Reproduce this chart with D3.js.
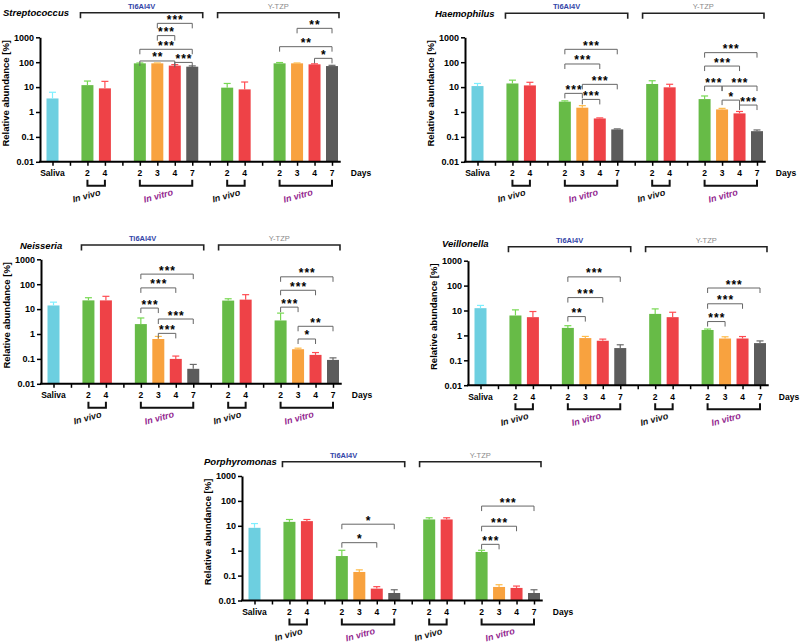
<!DOCTYPE html>
<html>
<head>
<meta charset="utf-8">
<script src="https://cdn.jsdelivr.net/npm/d3@7"></script>
<style>
  body { margin: 0; background: #fff; }
  text { font-family: "Liberation Sans", Arial, sans-serif; }
</style>
</head>
<body>
<div id="container"></div>
<script>
var width = 800;
var height = 643;

// categories (13 bars), with the slot each one sits on (gaps between groups)
var categories = ["Saliva", "Ti in vivo 2", "Ti in vivo 4", "Ti in vitro 2", "Ti in vitro 3", "Ti in vitro 4", "Ti in vitro 7",
  "Y in vivo 2", "Y in vivo 4", "Y in vitro 2", "Y in vitro 3", "Y in vitro 4", "Y in vitro 7"];
var dayLabels = ["Saliva", "2", "4", "2", "3", "4", "7", "2", "4", "2", "3", "4", "7"];
var slotOf = [0, 2, 3, 5, 6, 7, 8, 10, 11, 13, 14, 15, 16];
var yTicks = [0.01, 0.1, 1, 10, 100, 1000];

// relative abundance [%], bar value and top of error bar
var strep    = [3.5, 12, 8.9, 90, 90, 73, 66, 9.5, 8.1, 90, 90, 82, 70];
var strepErr = [6.2, 17.5, 17, 93, 93, 80, 71, 14, 16, 97, 93, 86, 75];
var haemo    = [11, 14, 11.7, 2.6, 1.49, 0.55, 0.2, 13.3, 9.8, 3.3, 1.27, 0.88, 0.17];
var haemoErr = [14, 19, 15.6, 2.8, 1.8, 0.58, 0.21, 18, 13, 4.4, 1.4, 1.05, 0.19];
var neiss    = [14, 22.4, 22.4, 2.5, 0.63, 0.10, 0.04, 22, 24, 3.5, 0.245, 0.145, 0.091];
var neissErr = [19, 28.6, 32.6, 4.4, 0.8, 0.13, 0.06, 26, 38, 6.9, 0.27, 0.18, 0.11];
var veill    = [12.4, 6.3, 5.4, 2.0, 0.78, 0.61, 0.31, 7.3, 5.4, 1.65, 0.75, 0.75, 0.49];
var veillErr = [16, 10.6, 9.1, 2.45, 0.91, 0.71, 0.42, 11.6, 8.5, 1.8, 0.88, 0.9, 0.6];
var porph    = [8.3, 14.4, 15.4, 0.61, 0.14, 0.03, 0.02, 18, 18, 0.89, 0.035, 0.032, 0.02];
var porphErr = [12.3, 17.9, 17.9, 1.04, 0.17, 0.036, 0.027, 21, 21, 1.04, 0.043, 0.038, 0.027];

// significance: [from category, to category, bracket level (%), stars]
var strepSig = [[4, 6, 3630, "***"], [4, 5, 1170, "***"], [3, 6, 330, "***"], [3, 5, 112, "**"], [5, 6, 98, "***"],
  [10, 12, 2290, "**"], [9, 12, 420, "**"], [11, 12, 143, "*"]];
var haemoSig = [[3, 6, 329, "***"], [3, 5, 84.7, "***"], [4, 6, 12.9, "***"], [3, 4, 5.6, "***"], [4, 5, 3.2, "***"],
  [9, 12, 242, "***"], [9, 11, 70, "***"], [9, 10, 11, "***"], [10, 12, 11, "***"], [10, 11, 3.0, "*"], [11, 12, 1.9, "***"]];
var neissSig = [[3, 6, 254, "***"], [3, 5, 71, "***"], [3, 4, 11, "***"], [4, 6, 4.0, "***"], [4, 5, 1.06, "***"],
  [9, 12, 198, "***"], [9, 11, 57, "***"], [9, 10, 12, "***"], [10, 12, 2.04, "**"], [10, 11, 0.63, "*"]];
var veillSig = [[3, 6, 224, "***"], [3, 5, 33, "***"], [3, 4, 5.7, "**"],
  [9, 12, 80, "***"], [9, 11, 18.6, "***"], [9, 10, 3.6, "***"]];
var porphSig = [[3, 6, 11.6, "*"], [3, 5, 2.1, "*"],
  [9, 12, 62, "***"], [9, 11, 9.6, "***"], [9, 10, 1.8, "***"]];

var subGroups = [[1, 2, "In vivo"], [3, 6, "In vitro"], [7, 8, "In vivo"], [9, 12, "In vitro"]];

var cyan = "#6dcfe0", green = "#67bb47", red = "#ee4247", orange = "#f8a23f", grey = "#5c5c5c";
var barColors = [cyan, green, red, green, orange, red, grey, green, red, green, orange, red, grey];

var panels = [
  {name: "Streptococcus", values: strep, err: strepErr, sig: strepSig, axisX: 40, top: 37.3, brY: 12.7, tx: 3, ty: 15.5},
  {name: "Haemophilus", values: haemo, err: haemoErr, sig: haemoSig, axisX: 465, top: 37.3, brY: 13.3, tx: 435, ty: 16.5},
  {name: "Neisseria", values: neiss, err: neissErr, sig: neissSig, axisX: 41, top: 259.3, brY: 245, tx: 20, ty: 248.5},
  {name: "Veillonella", values: veill, err: veillErr, sig: veillSig, axisX: 468, top: 260.7, brY: 246.7, tx: 442, ty: 246.5},
  {name: "Porphyromonas", values: porph, err: porphErr, sig: porphSig, axisX: 242, top: 476, brY: 461.7, tx: 204, ty: 465}
];

var svg = d3.select("#container")
  .append("svg")
  .attr("width", width)
  .attr("height", height);

svg.append("rect")
  .attr("width", width)
  .attr("height", height)
  .attr("fill", "#fff");

panels.forEach(drawPanel);

function drawPanel(p) {
  var g = svg.append("g");
  var x = d3.scaleLinear().domain([0, 16]).range([p.axisX + 12.5, p.axisX + 292]);
  var y = d3.scaleLog().domain([0.01, 1000]).range([p.top + 124.5, p.top]);
  var bottom = y(0.01);
  var bw = 12;

  // bars
  g.selectAll("rect.bar")
    .data(p.values)
    .enter().append("rect")
    .attr("class", "bar")
    .attr("x", function(d, i) { return x(slotOf[i]) - bw / 2; })
    .attr("width", bw)
    .attr("y", function(d) { return y(d); })
    .attr("height", function(d) { return bottom - y(d); })
    .attr("fill", function(d, i) { return barColors[i]; });

  // error bars (upper only)
  var eb = g.selectAll("g.err")
    .data(p.err)
    .enter().append("g")
    .attr("stroke", function(d, i) { return d3.color(barColors[i]).brighter(0.4); })
    .attr("stroke-width", 1.2);
  eb.append("line")
    .attr("x1", function(d, i) { return x(slotOf[i]); })
    .attr("x2", function(d, i) { return x(slotOf[i]); })
    .attr("y1", function(d, i) { return y(p.values[i]); })
    .attr("y2", function(d) { return y(d); });
  eb.append("line")
    .attr("x1", function(d, i) { return x(slotOf[i]) - 3.5; })
    .attr("x2", function(d, i) { return x(slotOf[i]) + 3.5; })
    .attr("y1", function(d) { return y(d); })
    .attr("y2", function(d) { return y(d); });

  // y axis
  var ya = g.append("g")
    .attr("transform", "translate(" + p.axisX + ",0)")
    .call(d3.axisLeft(y).tickValues(yTicks).tickFormat(function(d) { return String(d); })
      .tickSize(4).tickSizeOuter(0).tickPadding(2));
  ya.select(".domain").attr("stroke-width", 2);
  ya.selectAll(".tick line").attr("stroke-width", 1.5);
  ya.selectAll(".tick text")
    .attr("font-size", 9)
    .attr("font-weight", "bold")
    .attr("font-family", "Liberation Sans, Arial, sans-serif");

  g.append("text")
    .attr("transform", "translate(" + (p.axisX - 31.5) + "," + (p.top + 56) + ")rotate(-90)")
    .attr("text-anchor", "middle")
    .attr("font-size", 9.5)
    .attr("font-weight", "bold")
    .text("Relative abundance [%]");

  // x axis
  var xa = g.append("g")
    .attr("transform", "translate(0," + bottom + ")")
    .call(d3.axisBottom(x).tickValues(d3.range(17)).tickFormat("").tickSize(4).tickSizeOuter(0));
  xa.select(".domain").remove();
  xa.selectAll(".tick line").attr("stroke-width", 1.5);
  g.append("line")
    .attr("x1", p.axisX - 1)
    .attr("x2", x(16.5))
    .attr("y1", bottom)
    .attr("y2", bottom)
    .attr("stroke", "#000")
    .attr("stroke-width", 2);

  g.selectAll("text.day")
    .data(dayLabels)
    .enter().append("text")
    .attr("class", "day")
    .attr("x", function(d, i) { return x(slotOf[i]); })
    .attr("y", bottom + 14.5)
    .attr("text-anchor", "middle")
    .attr("font-size", 8.5)
    .attr("font-weight", "bold")
    .text(function(d) { return d; });

  g.append("text")
    .attr("x", p.axisX + 321)
    .attr("y", bottom + 14.5)
    .attr("text-anchor", "middle")
    .attr("font-size", 8.5)
    .attr("font-weight", "bold")
    .text("Days");

  // in vivo / in vitro brackets below axis
  subGroups.forEach(function(s) {
    var x1 = x(slotOf[s[0]]), x2 = x(slotOf[s[1]]);
    g.append("path")
      .attr("d", "M" + x1 + "," + (bottom + 18) + "V" + (bottom + 24) + "H" + x2 + "V" + (bottom + 18))
      .attr("fill", "none")
      .attr("stroke", "#111")
      .attr("stroke-width", 2);
    var cx = (x1 + x2) / 2 - (s[2] === "In vitro" ? 7 : 9), cy = bottom + 37;
    g.append("text")
      .attr("transform", "translate(" + cx + "," + cy + ")rotate(-15)")
      .attr("text-anchor", "middle")
      .attr("font-size", 9)
      .attr("font-weight", "bold")
      .attr("font-style", "italic")
      .attr("fill", s[2] === "In vitro" ? "#93278f" : "#111")
      .text(s[2]);
  });

  // material brackets on top
  [[1.6, 8.6, "Ti6Al4V", "#3346a8", "bold"], [9.45, 16.4, "Y-TZP", "#8a8a8a", "normal"]].forEach(function(m) {
    var x1 = x(m[0]), x2 = x(m[1]);
    g.append("path")
      .attr("d", "M" + x1 + "," + (p.brY + 5.5) + "V" + p.brY + "H" + x2 + "V" + (p.brY + 5.5))
      .attr("fill", "none")
      .attr("stroke", "#222")
      .attr("stroke-width", 1.6);
    g.append("text")
      .attr("x", (x1 + x2) / 2)
      .attr("y", p.brY - 4)
      .attr("text-anchor", "middle")
      .attr("font-size", 7.5)
      .attr("font-weight", m[4])
      .attr("fill", m[3])
      .text(m[2]);
  });

  // title
  g.append("text")
    .attr("x", p.tx)
    .attr("y", p.ty)
    .attr("font-size", 9.5)
    .attr("font-weight", "bold")
    .attr("font-style", "italic")
    .text(p.name);

  // significance brackets
  p.sig.forEach(function(s) {
    var x1 = x(slotOf[s[0]]), x2 = x(slotOf[s[1]]), yy = y(s[2]);
    g.append("path")
      .attr("d", "M" + x1 + "," + (yy + 5) + "V" + yy + "H" + x2 + "V" + (yy + 5))
      .attr("fill", "none")
      .attr("stroke", "#666")
      .attr("stroke-width", 1);
    g.append("text")
      .attr("x", (x1 + x2) / 2 + 0.5)
      .attr("y", yy + 0.5)
      .attr("text-anchor", "middle")
      .attr("font-size", 12)
      .attr("font-weight", "bold")
      .attr("letter-spacing", 1)
      .text(s[3]);
  });
}
</script>
</body>
</html>
